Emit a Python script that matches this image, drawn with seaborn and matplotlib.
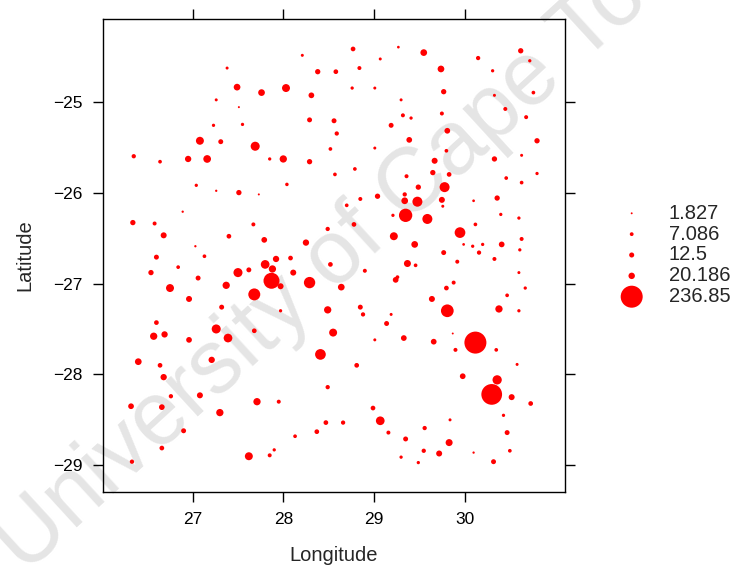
import matplotlib
matplotlib.use("Agg")
import matplotlib.pyplot as plt
import seaborn as sns
import pandas as pd

sns.set_style("white")
plt.rcParams["font.family"] = ["Liberation Sans", "DejaVu Sans"]

# ---- data ----
longitude = [
    28.21, 27.38, 28.38, 28.58, 27.49, 27.76, 28.03, 28.31, 27.26, 27.51,
    28.29, 28.56, 27.23, 27.55, 28.59, 27.08, 27.31, 27.69, 28.52, 26.35,
    26.64, 26.95, 27.16, 27.85, 28.00, 28.29, 28.57, 28.04, 27.04,
    28.77, 29.27, 29.55, 30.62, 29.07, 30.15, 30.72, 28.84, 29.74, 30.31,
    28.76, 29.01, 29.77, 29.30, 30.33, 30.76, 29.32, 29.41, 29.75, 30.45,
    30.68, 29.19, 29.81, 29.39, 30.80, 29.01, 29.80, 29.67, 30.33, 30.63,
    28.79, 29.36, 29.65, 29.83, 30.46, 30.80, 30.63, 29.78, 29.49,
    27.26, 27.51, 27.73, 26.89, 26.34, 26.58, 27.67, 26.68, 27.40, 27.79,
    28.49, 28.25, 27.03, 26.60, 27.13, 27.92, 28.08, 26.84, 26.54, 27.62,
    27.80, 27.88, 27.50, 28.11, 28.52, 27.06, 27.87, 27.97, 28.29, 28.64,
    26.75, 27.37, 27.68, 26.96, 27.32, 27.97, 28.49, 26.60, 26.57, 26.69,
    26.96, 27.26, 27.39, 27.68, 28.55,
    28.85, 29.04, 29.34, 29.34, 29.48, 29.75, 29.76, 30.10, 30.36, 28.70,
    29.21, 29.35, 29.59, 30.40, 30.60, 28.78, 30.12, 29.95, 30.63, 29.22,
    29.45, 29.99, 30.09, 30.20, 30.41, 29.77, 30.16, 30.61, 29.92, 30.33,
    29.37, 29.46, 28.90, 30.60, 29.26, 29.24, 29.88, 29.80, 30.67, 29.64,
    30.47, 28.85, 28.88, 29.81, 30.38, 30.60, 29.19, 29.14, 29.33, 29.87,
    30.12, 29.01, 29.66,
    26.40, 26.64, 27.21, 28.41, 26.68, 26.76, 27.08, 27.71, 27.95, 28.49,
    26.32, 26.66, 27.30, 26.90, 28.47, 28.37, 28.13, 26.66, 27.90, 27.85,
    27.62, 26.33,
    29.90, 30.35, 28.81, 30.58, 29.98, 30.36, 30.30, 30.52, 30.73, 28.99,
    28.66, 29.07, 29.84, 30.43, 29.16, 29.56, 30.47, 29.35, 29.83, 29.55,
    29.72, 30.50, 29.30, 29.49, 30.10, 30.32,
]
latitude = [
    -24.49, -24.63, -24.67, -24.67, -24.84, -24.90, -24.85, -24.93, -24.98, -25.06,
    -25.20, -25.21, -25.26, -25.25, -25.35, -25.43, -25.44, -25.49, -25.52, -25.60,
    -25.66, -25.63, -25.63, -25.63, -25.63, -25.66, -25.80, -25.91, -25.92,
    -24.42, -24.40, -24.46, -24.44, -24.53, -24.52, -24.55, -24.63, -24.64, -24.66,
    -24.85, -24.85, -24.89, -24.98, -24.93, -24.90, -25.15, -25.18, -25.13, -25.08,
    -25.17, -25.26, -25.32, -25.42, -25.43, -25.51, -25.54, -25.65, -25.63, -25.59,
    -25.74, -25.82, -25.78, -25.80, -25.84, -25.79, -25.89, -25.94, -25.94,
    -25.98, -26.00, -26.02, -26.21, -26.33, -26.34, -26.35, -26.47, -26.48, -26.52,
    -26.40, -26.55, -26.59, -26.71, -26.70, -26.73, -26.72, -26.82, -26.88, -26.85,
    -26.79, -26.84, -26.88, -26.88, -26.79, -26.94, -26.97, -27.03, -26.99, -27.04,
    -27.05, -27.02, -27.12, -27.17, -27.26, -27.30, -27.29, -27.43, -27.58, -27.56,
    -27.62, -27.50, -27.60, -27.52, -27.54,
    -26.07, -26.04, -26.02, -26.09, -26.10, -26.08, -26.15, -26.09, -26.06, -26.14,
    -26.25, -26.25, -26.29, -26.24, -26.28, -26.35, -26.35, -26.44, -26.51, -26.48,
    -26.57, -26.57, -26.59, -26.57, -26.57, -26.66, -26.66, -26.63, -26.76, -26.73,
    -26.78, -26.80, -26.86, -26.88, -26.93, -26.96, -26.99, -27.05, -27.05, -27.17,
    -27.13, -27.26, -27.34, -27.30, -27.28, -27.30, -27.34, -27.44, -27.60, -27.55,
    -27.65, -27.62, -27.64,
    -27.86, -27.90, -27.84, -27.78, -28.03, -28.24, -28.23, -28.30, -28.30, -28.14,
    -28.35, -28.36, -28.42, -28.62, -28.53, -28.63, -28.68, -28.81, -28.83, -28.89,
    -28.90, -28.96,
    -27.73, -27.73, -27.90, -27.89, -28.02, -28.06, -28.22, -28.25, -28.32, -28.37,
    -28.53, -28.51, -28.50, -28.45, -28.64, -28.59, -28.64, -28.71, -28.75, -28.84,
    -28.87, -28.84, -28.91, -28.97, -28.86, -28.96,
]
value = [
    4.4, 4.4, 13.8, 10.8, 22, 22, 31, 16, 4.4, 2.0,
    12, 12, 5.3, 5.3, 9, 31, 12, 40, 6.7, 9,
    6.7, 19.5, 29, 5.3, 26, 13.8, 6.7, 6, 5.3,
    10.8, 3.6, 22, 13.8, 4.4, 9, 5.3, 7.8, 22, 5.3,
    5.3, 4.4, 13.8, 4.4, 4.4, 6.7, 7.8, 5.3, 7.8, 7.8,
    7.8, 12, 16, 16, 13.8, 4.4, 6.7, 17.6, 13.8, 4.4,
    6.7, 7.8, 13.8, 10.8, 6.7, 5.3, 6.7, 49, 13.8,
    2.6, 13.8, 2.0, 2.6, 13.8, 7.8, 7.8, 17.6, 10.8, 16,
    9, 19.5, 2.6, 12, 6.7, 19.5, 10.8, 6.7, 13.8, 12,
    37, 26, 40, 17.6, 10.8, 12, 125, 17.6, 63, 22,
    31, 26, 70, 17.6, 12, 5.3, 26, 10.8, 26, 19.5,
    16, 40, 37, 10.8, 31,
    7.8, 13.8, 9, 22, 49, 17.6, 4.4, 3.6, 13.8, 6.7,
    5.3, 87, 49, 5.3, 5.3, 10.8, 6.7, 56, 7.8, 31,
    22, 3.6, 5.3, 5.3, 16, 12, 9, 5.3, 7.8, 7.8,
    24, 6.7, 7.8, 4.4, 6.7, 16, 7.8, 10.8, 5.3, 17.6,
    6.7, 12, 9, 79, 26, 5.3, 4.4, 12, 16, 1.827,
    236.85, 4.4, 16,
    22, 10.8, 19.5, 56, 19.5, 9, 17.6, 26, 7.8, 9,
    16, 16, 26, 12, 10.8, 10.8, 6.7, 10.8, 5.3, 7.8,
    31, 9,
    7.8, 6.7, 10.8, 4.4, 16, 42, 210, 17.6, 10.8, 10.8,
    9, 37, 4.4, 5.3, 7.8, 9, 12, 12, 24, 9,
    17.6, 6.7, 5.3, 5.3, 2.6, 12,
]
legend_values = [1.827, 7.086, 12.5, 20.186, 236.85]
legend_labels = ["1.827", "7.086", "12.5", "20.186", "236.85"]
x_ticks = [27, 28, 29, 30]
y_ticks = [-29, -28, -27, -26, -25]

df = pd.DataFrame({"Longitude": longitude, "Latitude": latitude, "value": value})

VMAX = max(legend_values)
SMAX = 251  # marker area (pt^2) of the largest bubble; area proportional to value

fig = plt.figure(figsize=(7.36, 5.66), dpi=100)

# watermark behind everything
fig.text(25 / 736, 1 - 575 / 566, "University of Cape Town", fontsize=64.5,
         color="#e5e5e5", rotation=42.5, rotation_mode="anchor",
         ha="left", va="baseline", zorder=-5)

ax = fig.add_axes([0.1395, 0.1313, 0.6282, 0.8352])
ax.patch.set_alpha(0)
sns.scatterplot(data=df, x="Longitude", y="Latitude", size="value",
                sizes=(0, SMAX), size_norm=(0, VMAX), color="#ff0000",
                linewidth=0, edgecolor="none", legend=False, ax=ax)

ax.set_xlim(26.007, 31.109)
ax.set_ylim(-29.29, -24.09)
ax.set_xticks(x_ticks)
ax.set_yticks(y_ticks)
ax.tick_params(direction="out", length=7.2, width=1.0, colors="black",
               labelsize=12.5, pad=7.5, top=True, right=True,
               bottom=True, left=True, labeltop=False, labelright=False)
for sp in ax.spines.values():
    sp.set_visible(True)
    sp.set_color("black")
    sp.set_linewidth(1.0)
ax.set_xlabel("Longitude", fontsize=14.5)
ax.set_ylabel("Latitude", fontsize=14.5)
ax.xaxis.set_label_coords(0.5, -0.114)
ax.yaxis.set_label_coords(-0.1486, 0.5)

# bubble key
lax = fig.add_axes([600 / 736, 1 - 310 / 566, 136 / 736, 110 / 566])
lax.axis("off")
lax.set_xlim(0, 1)
lax.set_ylim(4.638, -0.638)
sns.scatterplot(x=[0.233] * len(legend_values), y=list(range(len(legend_values))),
                size=legend_values, sizes=(0, SMAX), size_norm=(0, VMAX),
                color="#ff0000", linewidth=0, edgecolor="none", legend=False, ax=lax)
for i, lab in enumerate(legend_labels):
    lax.text(0.507, i, lab, va="center", ha="left", fontsize=14.5)

fig.savefig("out.png", dpi=100)
